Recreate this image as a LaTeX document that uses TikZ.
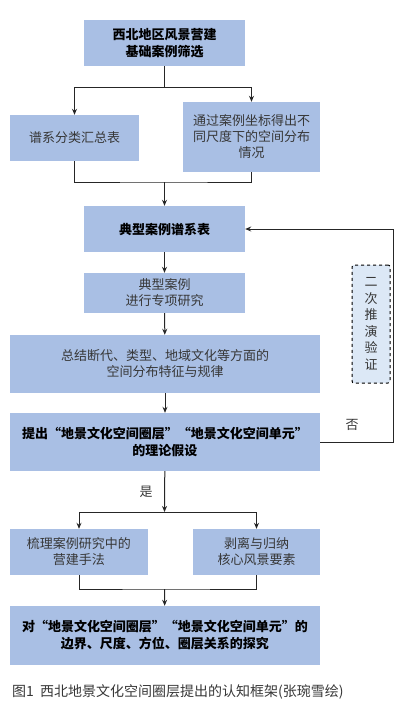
\documentclass[tikz,border=0pt]{standalone}
\usepackage{fontspec}
\setmainfont{Noto Sans CJK SC}
\usetikzlibrary{arrows.meta}
\definecolor{boxblue}{RGB}{169,191,228}
\definecolor{paleblue}{RGB}{220,232,246}
\definecolor{txtgray}{RGB}{55,55,55}
\begin{document}
\begin{tikzpicture}[x=1pt, y=-1pt,
  box/.style={fill=boxblue, draw=none, align=center, text=txtgray, inner sep=0pt,
    font=\fontsize{13}{16}\selectfont},
  keybox/.style={box, text=black, font=\fontsize{13}{17}\selectfont\bfseries},
  link/.style={line width=1pt, draw=black!85},
  arr/.style={link, -{Stealth[length=6pt, width=5pt]}}]
\useasboundingbox (0,0) rectangle (401,704);
\node[keybox, minimum width=161pt, minimum height=46pt] (base) at (164.5,43) {西北地区风景营建\\基础案例筛选};
\node[box, minimum width=129pt, minimum height=46pt] (summary) at (74.5,138) {谱系分类汇总表};
\node[box, minimum width=137pt, minimum height=70pt] (coords) at (251.5,137) {通过案例坐标得出不\\同尺度下的空间分布\\情况};
\node[keybox, minimum width=161pt, minimum height=46pt] (table) at (164.5,229) {典型案例谱系表};
\node[box, minimum width=161pt, minimum height=40pt] (study) at (164.5,293) {典型案例\\进行专项研究};
\node[box, minimum width=310pt, minimum height=58pt] (rules) at (165,364) {总结断代、类型、地域文化等方面的\\空间分布特征与规律};
\node[keybox, minimum width=310pt, minimum height=58pt] (theory) at (165,442) {提出“地景文化空间圈层”“地景文化空间单元”\\的理论假设};
\node[box, minimum width=138pt, minimum height=46pt] (method) at (79,552) {梳理案例研究中的\\营建手法};
\node[box, minimum width=127pt, minimum height=46pt] (element) at (256.5,552) {剥离与归纳\\核心风景要素};
\node[keybox, minimum width=310pt, minimum height=59pt] (explore) at (165,635.5) {对“地景文化空间圈层”“地景文化空间单元”的\\边界、尺度、方位、圈层关系的探究};
\node[box, fill=paleblue, draw=black, dashed, line width=1pt, rounded corners=2pt,
  minimum width=38pt, minimum height=118pt, font=\fontsize{13}{16.5}\selectfont] (verify) at (371,324) {二\\次\\推\\演\\验\\证};
\node[text=txtgray, font=\fontsize{13}{15}\selectfont] (no) at (352,425) {否};
\node[text=txtgray, font=\fontsize{13}{15}\selectfont] (yes) at (146,492) {是};
\node[anchor=west, text=txtgray, inner sep=0pt, font=\fontsize{14}{16}\selectfont] (caption) at (12,692) {图1\ \ 西北地景文化空间圈层提出的认知框架(张琬雪绘)};
\coordinate (split1) at (164.5,87);
\coordinate (merge1) at (164.5,182);
\coordinate (split2) at (164.5,512);
\coordinate (merge2) at (164.5,589);
\draw[link] (base) -- (split1);
\draw[arr] (split1) -| (summary);
\draw[arr] (split1) -| (coords);
\draw[link] (summary.south) |- (merge1) -| (coords.south);
\draw[arr] (merge1) -- (table);
\draw[arr] (table) -- (study);
\draw[arr] (study) -- (rules);
\draw[arr] (rules) -- (theory);
\draw[arr] (theory.east) -- ++(73,0) |- (table.east);
\draw[arr] (theory) -- (split2);
\draw[arr] (split2) -| (method);
\draw[arr] (split2) -| (element);
\draw[link] (method.south) |- (merge2) -| (element.south);
\draw[arr] (merge2) -- (explore);
\end{tikzpicture}
\end{document}
